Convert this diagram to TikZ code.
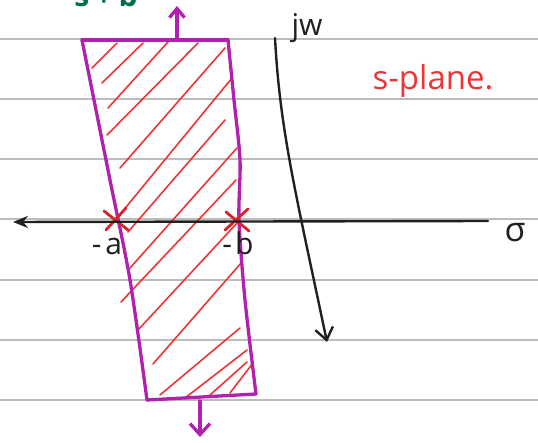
\documentclass[tikz,border=0pt]{standalone}
\usepackage{fontspec}
\setmainfont{Open Sans}
\usetikzlibrary{arrows.meta}
\definecolor{rulegrey}{RGB}{188,188,188}
\definecolor{mag}{RGB}{178,32,176}
\definecolor{hatchred}{RGB}{238,52,52}
\definecolor{xred}{RGB}{214,36,40}
\definecolor{pengreen}{RGB}{0,112,76}
\definecolor{ink}{RGB}{32,32,32}
\begin{document}
\begin{tikzpicture}[x=1pt,y=-1pt,line cap=round,line join=round,
  ruled/.style={draw=rulegrey,line width=1.3pt},
  region/.style={draw=mag,line width=3.3pt},
  hatchline/.style={draw=hatchred,line width=1.6pt},
  axisline/.style={draw=ink,line width=2.4pt},
  polemark/.style={draw=xred,line width=2.8pt},
  lbl/.style={inner sep=0pt,text=ink,font=\fontsize{30}{30}\selectfont}]
\useasboundingbox (0,0) rectangle (538,443);
\clip (0,0) rectangle (538,443);
\fill[white] (0,0) rectangle (538,443);
% ruled paper
\foreach \y in {39,99,159,219,280,340,400} \draw[ruled] (0,\y) -- (538,\y);
% hatching
\foreach \a/\b/\c/\d in {92/68/117/43, 102/83/143/43, 108/108/168/42, 107/135/198/43,
  120/168/225/48, 122/212/232/78, 128/232/225/120, 130/268/237/148, 121/302/236/180,
  138/330/238/222, 153/364/242/262, 160/395/240/328, 185/398/247/350, 210/395/247/362,
  230/393/253/363}
  \draw[hatchline] (\a,\b) -- (\c,\d);
% region outline
\coordinate (TL) at (82,40);
\coordinate (TR) at (228,40);
\coordinate (BR) at (256,394);
\coordinate (BL) at (147,400);
\draw[region] (TL) -- (TR);
\draw[region] plot[smooth] coordinates {(228,40) (234,100) (240,160) (239,220) (245,300) (256,394)};
\draw[region] (BL) -- (BR);
\draw[region] plot[smooth] coordinates {(82,40) (110,180) (130,280) (147,400)};
\coordinate (upS) at (177,38);
\coordinate (upE) at (177,6);
\coordinate (dnS) at (200,401);
\coordinate (dnE) at (200,437);
\draw[region,-{Straight Barb[length=9pt,width=15pt]}] (upS) -- (upE);
\draw[region,-{Straight Barb[length=11pt,width=20pt]}] (dnS) -- (dnE);
% pole marks
\coordinate (pa) at (117,220);
\coordinate (pb) at (237,221);
\draw[polemark] ([shift={(-13,-9)}]pa) -- ([shift={(11,10)}]pa);
\draw[polemark] ([shift={(-11,10)}]pa) -- ([shift={(9,-12)}]pa);
\draw[polemark] ([shift={(-11,-9)}]pb) -- ([shift={(12,10)}]pb);
\draw[polemark] ([shift={(-12,9)}]pb) -- ([shift={(11,-12)}]pb);
% axes
\coordinate (sigR) at (488,221);
\coordinate (sigL) at (13,222);
\draw[axisline,-{Stealth[length=15pt,width=12pt]}] (sigR) -- (sigL);
\coordinate (jwT) at (275,38);
\coordinate (jwB) at (327,342);
\draw[axisline,-{Straight Barb[length=12pt,width=18pt]}] (jwT) .. controls (280,130) and (295,190) .. (jwB);
% labels
\node[lbl,anchor=base] (la) at (107,255) {-\hspace{4pt}a};
\node[lbl,anchor=base] (lb) at (238,255) {-\hspace{3pt}b};
\node[lbl,anchor=base] (ljw) at (307,36) {jw};
\node[lbl,anchor=base,font=\fontsize{34}{34}\selectfont] (lsig) at (515,242) {σ};
\node[inner sep=0pt,anchor=base,text=hatchred,font=\fontsize{33}{33}\selectfont] (lplane) at (433,90) {s-plane.};
\node[inner sep=0pt,anchor=base,text=pengreen,font=\bfseries\fontsize{30}{30}\selectfont] (ltop) at (106,7) {s\hspace{6pt}+\hspace{6pt}b};
\end{tikzpicture}
\end{document}
